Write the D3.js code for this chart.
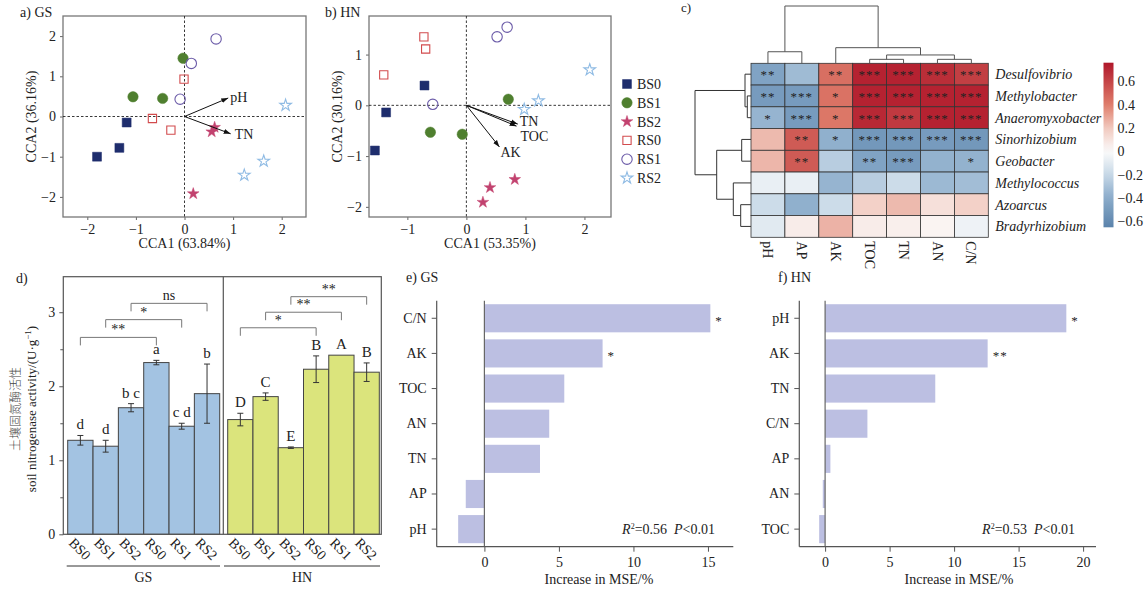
<!DOCTYPE html>
<html>
<head>
<meta charset="utf-8">
<script src="https://cdn.jsdelivr.net/npm/d3@7"></script>
<style>
  body { margin: 0; background: #fff; }
  text { font-family: "Liberation Serif", Tinos, "Times New Roman", serif; fill: #222; }
</style>
</head>
<body>
<div id="chart"></div>
<script>
// ---- data ----
const groups = ["BS0", "BS1", "BS2", "RS0", "RS1", "RS2"];
const groupColors = ["#1e2d6d", "#4f7f2f", "#c2426f", "#d24b4d", "#6b5ba8", "#8fbbe4"];

// CCA site scores: [group, CCA1, CCA2]
const gsPoints = [
  ["BS0", -1.80, -1.00], ["BS0", -1.34, -0.78], ["BS0", -1.19, -0.15],
  ["BS1", -0.03, 1.45], ["BS1", -1.06, 0.49], ["BS1", -0.45, 0.45],
  ["BS2", 0.62, -0.27], ["BS2", 0.56, -0.38], ["BS2", 0.18, -1.92],
  ["RS0", -0.01, 0.93], ["RS0", -0.66, -0.05], ["RS0", -0.28, -0.34],
  ["RS1", 0.65, 1.93], ["RS1", 0.14, 1.32], ["RS1", -0.09, 0.43],
  ["RS2", 2.08, 0.28], ["RS2", 1.63, -1.11], ["RS2", 1.23, -1.46]
];
const hnPoints = [
  ["BS0", -0.71, 0.39], ["BS0", -1.36, -0.14], ["BS0", -1.55, -0.89],
  ["BS1", 0.71, 0.12], ["BS1", -0.61, -0.53], ["BS1", -0.07, -0.57],
  ["BS2", 0.82, -1.46], ["BS2", 0.40, -1.62], ["BS2", 0.28, -1.91],
  ["RS0", -0.72, 1.35], ["RS0", -0.69, 1.11], ["RS0", -1.40, 0.60],
  ["RS1", 0.69, 1.54], ["RS1", 0.52, 1.35], ["RS1", -0.57, 0.02],
  ["RS2", 2.09, 0.70], ["RS2", 1.22, 0.09], ["RS2", 0.98, -0.08]
];
const gsArrows = [["pH", 0.90, 0.46], ["TN", 0.95, -0.43]];
const hnArrows = [["TN", 0.87, -0.37], ["TOC", 0.85, -0.41], ["AK", 0.56, -0.82]];

// heatmap (Spearman r)
const hmCols = ["pH", "AP", "AK", "TOC", "TN", "AN", "C/N"];
const hmRows = ["Desulfovibrio", "Methylobacter", "Anaeromyxobacter", "Sinorhizobium",
  "Geobacter", "Methylococcus", "Azoarcus", "Bradyrhizobium"];
const hmValues = [
  [-0.45, -0.33, 0.45, 0.72, 0.72, 0.68, 0.62],
  [-0.50, -0.50, 0.44, 0.72, 0.72, 0.72, 0.72],
  [-0.36, -0.50, 0.42, 0.70, 0.64, 0.72, 0.72],
  [0.24, 0.52, -0.38, -0.52, -0.52, -0.50, -0.52],
  [0.25, 0.52, -0.25, -0.45, -0.50, -0.37, -0.37],
  [-0.07, -0.07, -0.36, -0.25, -0.18, -0.34, -0.32],
  [-0.18, -0.38, -0.18, 0.17, 0.24, 0.11, 0.17],
  [-0.10, 0.06, 0.26, 0.06, 0.05, 0.03, -0.05]
];
const hmSig = [
  ["**", "", "**", "***", "***", "***", "***"],
  ["**", "***", "*", "***", "***", "***", "***"],
  ["*", "***", "*", "***", "***", "***", "***"],
  ["", "**", "*", "***", "***", "***", "***"],
  ["", "**", "", "**", "***", "", "*"],
  ["", "", "", "", "", "", ""],
  ["", "", "", "", "", "", ""],
  ["", "", "", "", "", "", ""]
];
// linkage rows: [child a, child b, merge height]; new clusters numbered after leaves
const colLinkage = [[3, 4, 0.38], [5, 6, 0.38], [7, 8, 0.8], [2, 9, 1.5], [0, 1, 1.11], [11, 10, 5.5]];
const rowLinkage = [[1, 2, 0.37], [0, 8, 0.6], [3, 4, 0.93], [6, 7, 1.03], [5, 11, 1.77], [10, 12, 3.43], [9, 13, 5.6]];
const cbTicks = [0.6, 0.4, 0.2, 0, -0.2, -0.4, -0.6];

// nitrogenase activity
const gsActivity = [1.27, 1.19, 1.71, 2.32, 1.46, 1.90];
const gsErr = [0.065, 0.08, 0.055, 0.03, 0.04, 0.40];
const gsLetters = ["d", "d", "b c", "a", "c d", "b"];
const hnActivity = [1.55, 1.86, 1.17, 2.23, 2.42, 2.19];
const hnErr = [0.085, 0.05, 0.01, 0.18, 0, 0.125];
const hnLetters = ["D", "C", "E", "B", "A", "B"];
const gsBrackets = [["BS0", "RS0", 2.66, "**"], ["BS1", "RS1", 2.90, "*"], ["BS2", "RS2", 3.12, "ns"]];
const hnBrackets = [["BS0", "RS0", 2.79, "*"], ["BS1", "RS1", 3.00, "**"], ["BS2", "RS2", 3.21, "**"]];

// random forest importance
const eVars = ["C/N", "AK", "TOC", "AN", "TN", "AP", "pH"];
const eMSE = [15.16, 7.93, 5.36, 4.35, 3.73, -1.25, -1.76];
const eSig = ["*", "*", "", "", "", "", ""];
const fVars = ["pH", "AK", "TN", "C/N", "AP", "AN", "TOC"];
const fMSE = [18.7, 12.6, 8.54, 3.28, 0.41, -0.18, -0.46];
const fSig = ["*", "**", "", "", "", "", ""];

// ---- drawing ----
const svg = d3.select("#chart").append("svg")
  .attr("width", 1146).attr("height", 594)
  .style("font-size", "13px");

svg.append("defs").append("marker")
  .attr("id", "arrow").attr("viewBox", "0 0 10 10")
  .attr("refX", 10).attr("refY", 5)
  .attr("markerWidth", 7).attr("markerHeight", 7)
  .attr("markerUnits", "userSpaceOnUse")
  .attr("orient", "auto")
  .append("path").attr("d", "M0,1.5L10,5L0,8.5z").attr("fill", "#111");

const color = d3.scaleOrdinal(groups, groupColors);
const symType = d3.scaleOrdinal(groups, [d3.symbolSquare, d3.symbolCircle, d3.symbolStar,
  d3.symbolSquare, d3.symbolCircle, d3.symbolStar]);
const symSize = d3.scaleOrdinal(groups, [80, 85, 42, 68, 85, 42]);
const filled = g => g.startsWith("BS");
const intFmt = d3.format("d");

function drawSymbol(sel, g) {
  sel.attr("d", d3.symbol(symType(g), symSize(g)))
    .attr("fill", filled(g) ? color(g) : "none")
    .attr("stroke", color(g))
    .attr("stroke-width", filled(g) ? 0.5 : 1.1);
}

function ccaPanel(opt) {
  const { points, arrows, xDom, yDom, left, right, top, bottom, title, xLab, yLab, labOff } = opt;
  const x = d3.scaleLinear(xDom, [left, right]);
  const y = d3.scaleLinear(yDom, [bottom, top]);
  const g = svg.append("g");

  g.append("g").attr("transform", `translate(0,${bottom})`)
    .call(d3.axisBottom(x).tickValues(d3.range(Math.ceil(xDom[0]), Math.floor(xDom[1]) + 1))
      .tickFormat(intFmt).tickSize(3).tickPadding(4));
  g.append("g").attr("transform", `translate(${left},0)`)
    .call(d3.axisLeft(y).tickValues(d3.range(Math.ceil(yDom[0]), Math.floor(yDom[1]) + 1))
      .tickFormat(intFmt).tickSize(3).tickPadding(4));
  g.selectAll(".domain").remove();
  g.selectAll(".tick line").attr("stroke", "#666");
  g.selectAll(".tick text").attr("fill", "#222").style("font-size", "14px");

  g.append("rect").attr("x", left).attr("y", top)
    .attr("width", right - left).attr("height", bottom - top)
    .attr("fill", "none").attr("stroke", "#777").attr("stroke-width", 1.3);

  g.append("line").attr("x1", x(0)).attr("x2", x(0)).attr("y1", top).attr("y2", bottom)
    .attr("stroke", "#222").attr("stroke-dasharray", "2.5,2").attr("stroke-width", 0.9);
  g.append("line").attr("x1", left).attr("x2", right).attr("y1", y(0)).attr("y2", y(0))
    .attr("stroke", "#222").attr("stroke-dasharray", "2.5,2").attr("stroke-width", 0.9);

  g.selectAll(".pt").data(points).join("path")
    .attr("transform", d => `translate(${x(d[1])},${y(d[2])})`)
    .each(function (d) { drawSymbol(d3.select(this), d[0]); });

  g.selectAll(".arr").data(arrows).join("line")
    .attr("x1", x(0)).attr("y1", y(0))
    .attr("x2", d => x(d[1])).attr("y2", d => y(d[2]))
    .attr("stroke", "#111").attr("stroke-width", 1)
    .attr("marker-end", "url(#arrow)");
  g.selectAll(".arrlab").data(arrows).join("text")
    .attr("x", d => x(d[1]) + labOff[d[0]][0])
    .attr("y", d => y(d[2]) + labOff[d[0]][1])
    .attr("dy", "0.35em")
    .style("font-size", "14px")
    .text(d => d[0]);

  g.append("text").attr("x", (left + right) / 2).attr("y", bottom + 31)
    .attr("text-anchor", "middle").style("font-size", "14px").text(xLab);
  g.append("text").attr("transform", `translate(${left - 27},${(top + bottom) / 2}) rotate(-90)`)
    .attr("text-anchor", "middle").style("font-size", "14px").text(yLab);
  g.append("text").attr("x", title[1]).attr("y", 17).style("font-size", "14px").text(title[0]);
}

ccaPanel({
  points: gsPoints, arrows: gsArrows, xDom: [-2.5, 2.5], yDom: [-2.5, 2.5],
  left: 63, right: 306, top: 16, bottom: 217,
  title: ["a) GS", 20], xLab: "CCA1 (63.84%)", yLab: "CCA2 (36.16%)",
  labOff: { pH: [2, -1], TN: [4, 0] }
});
ccaPanel({
  points: hnPoints, arrows: hnArrows, xDom: [-1.65, 2.45], yDom: [-2.2, 1.76],
  left: 369, right: 611, top: 16, bottom: 217,
  title: ["b) HN", 325], xLab: "CCA1 (53.35%)", yLab: "CCA2 (30.16%)",
  labOff: { TN: [2, -3], TOC: [4, 10], AK: [1, 5] }
});

// legend
const leg = svg.append("g").selectAll("g").data(groups).join("g")
  .attr("transform", (d, i) => `translate(627,${84 + i * 18.8})`);
leg.append("path").each(function (d) { drawSymbol(d3.select(this), d); });
leg.append("text").attr("x", 10).attr("dy", "0.35em").style("font-size", "14px").text(d => d);

// ---- heatmap ----
(function () {
  const left = 751, right = 988.3, top = 63.3, bottom = 237.3;
  const x = d3.scaleBand(hmCols, [left, right]);
  const y = d3.scaleBand(hmRows, [top, bottom]);
  const col = d3.scaleLinear([-0.65, -0.4, -0.2, 0, 0.2, 0.4, 0.76],
    ["#5a83ab", "#8aabca", "#c7d8e7", "#fbfbfb", "#f1c9bf", "#df7d6b", "#b0172a"]);
  const g = svg.append("g");
  g.append("text").attr("x", 681).attr("y", 12).style("font-size", "13px").text("c)");

  const cells = [];
  hmValues.forEach((r, i) => r.forEach((v, j) => cells.push({ r: hmRows[i], c: hmCols[j], v, s: hmSig[i][j] })));
  g.selectAll("rect").data(cells).join("rect")
    .attr("x", d => x(d.c)).attr("y", d => y(d.r))
    .attr("width", x.bandwidth()).attr("height", y.bandwidth())
    .attr("fill", d => col(d.v)).attr("stroke", "#333").attr("stroke-width", 0.8);
  g.selectAll(".sig").data(cells.filter(d => d.s)).join("text")
    .attr("x", d => x(d.c) + x.bandwidth() / 2).attr("y", d => y(d.r) + y.bandwidth() / 2 + 5)
    .attr("text-anchor", "middle").style("font-size", "13px").style("letter-spacing", "1px")
    .attr("fill", "#333").text(d => d.s);

  g.selectAll(".rl").data(hmRows).join("text")
    .attr("x", right + 7).attr("y", d => y(d) + y.bandwidth() / 2).attr("dy", "0.35em")
    .style("font-size", "14px").style("font-style", "italic").text(d => d);
  g.selectAll(".cl").data(hmCols).join("text")
    .attr("transform", d => `translate(${x(d) + x.bandwidth() / 2},${bottom + 4}) rotate(90)`)
    .attr("dy", "0.35em").style("font-size", "14px").text(d => d);

  // dendrograms
  function dendro(linkage, leaves, pos) {
    const nodes = leaves.map(l => ({ p: pos(l), h: 0 }));
    const segs = [];
    linkage.forEach(([a, b, h]) => {
      const A = nodes[a], B = nodes[b];
      segs.push({ A, B, h });
      nodes.push({ p: (A.p + B.p) / 2, h });
    });
    return segs;
  }
  const hTop = d3.scaleLinear([0, 5.5], [top, 6]);
  const colSegs = dendro(colLinkage, hmCols, c => x(c) + x.bandwidth() / 2);
  g.selectAll(".cd").data(colSegs).join("path")
    .attr("d", s => `M${s.A.p},${hTop(s.A.h)}V${hTop(s.h)}H${s.B.p}V${hTop(s.B.h)}`)
    .attr("fill", "none").attr("stroke", "#555").attr("stroke-width", 1);
  const hLeft = d3.scaleLinear([0, 5.6], [left, 695]);
  const rowSegs = dendro(rowLinkage, hmRows, r => y(r) + y.bandwidth() / 2);
  g.selectAll(".rd").data(rowSegs).join("path")
    .attr("d", s => `M${hLeft(s.A.h)},${s.A.p}H${hLeft(s.h)}V${s.B.p}H${hLeft(s.B.h)}`)
    .attr("fill", "none").attr("stroke", "#333").attr("stroke-width", 1);

  // colour bar
  const cb = d3.scaleLinear([-0.65, 0.76], [227.3, 62.7]);
  const grad = svg.select("defs").append("linearGradient").attr("id", "cbg")
    .attr("x1", 0).attr("x2", 0).attr("y1", 1).attr("y2", 0);
  d3.range(0, 1.0001, 0.05).forEach(t => {
    grad.append("stop").attr("offset", t).attr("stop-color", col(-0.65 + t * 1.41));
  });
  g.append("rect").attr("x", 1103.5).attr("y", 62.7).attr("width", 10).attr("height", 227.3 - 62.7)
    .attr("fill", "url(#cbg)");
  g.selectAll(".cbt").data(cbTicks).join("text")
    .attr("x", 1117.5).attr("y", d => cb(d)).attr("dy", "0.35em")
    .style("font-size", "14px").text(d => d3.format("")(d).replace("-", "\u2212"));
})();

// ---- panel d: nitrogenase activity ----
(function () {
  const left = 63.3, right = 381.3, top = 276.7, bottom = 534.3, mid = 223.3;
  const y = d3.scaleLinear([0, 3.48], [bottom, top]);
  const xg = d3.scaleBand(groups, [67.7, 219.7]);
  const xh = d3.scaleBand(groups, [227.7, 379.3]);
  const g = svg.append("g");
  g.append("text").attr("x", 16).attr("y", 283).style("font-size", "14px").text("d)");

  function site(xs, vals, errs, letters, brackets, fill) {
    const data = groups.map((k, i) => ({ k, v: vals[i], e: errs[i], l: letters[i] }));
    g.append("g").selectAll("rect").data(data).join("rect")
      .attr("x", d => xs(d.k)).attr("y", d => y(d.v))
      .attr("width", xs.bandwidth()).attr("height", d => y(0) - y(d.v))
      .attr("fill", fill).attr("stroke", "#444").attr("stroke-width", 1);
    const eb = g.append("g").attr("stroke", "#333").attr("stroke-width", 1)
      .selectAll("g").data(data.filter(d => d.e > 0)).join("g");
    const cx = d => xs(d.k) + xs.bandwidth() / 2;
    eb.append("line").attr("x1", cx).attr("x2", cx).attr("y1", d => y(d.v - d.e)).attr("y2", d => y(d.v + d.e));
    eb.append("line").attr("x1", d => cx(d) - 3).attr("x2", d => cx(d) + 3).attr("y1", d => y(d.v - d.e)).attr("y2", d => y(d.v - d.e));
    eb.append("line").attr("x1", d => cx(d) - 3).attr("x2", d => cx(d) + 3).attr("y1", d => y(d.v + d.e)).attr("y2", d => y(d.v + d.e));
    g.append("g").selectAll("text").data(data).join("text")
      .attr("x", cx).attr("y", d => y(d.v + d.e) - 6)
      .attr("text-anchor", "middle").style("font-size", "15px").text(d => d.l);
    const br = g.append("g").selectAll("g").data(brackets).join("g");
    br.append("path")
      .attr("d", b => `M${xs(b[0]) + xs.bandwidth() / 2},${y(b[2]) + 8}V${y(b[2])}H${xs(b[1]) + xs.bandwidth() / 2}V${y(b[2]) + 8}`)
      .attr("fill", "none").attr("stroke", "#777").attr("stroke-width", 1);
    br.append("text")
      .attr("x", b => (xs(b[0]) + xs(b[1]) + xs.bandwidth()) / 2).attr("y", b => y(b[2]) - 3)
      .attr("text-anchor", "middle").style("font-size", "14px")
      .text(b => b[3]);
    g.append("g").selectAll("text").data(groups).join("text")
      .attr("transform", d => `translate(${xs(d) + xs.bandwidth() / 2 - 9},${bottom + 6}) rotate(45)`)
      .attr("dy", "0.35em").style("font-size", "14px").text(d => d);
  }
  site(xg, gsActivity, gsErr, gsLetters, gsBrackets, "#a3c3e2");
  site(xh, hnActivity, hnErr, hnLetters, hnBrackets, "#dbe47c");

  g.append("rect").attr("x", left).attr("y", top).attr("width", right - left).attr("height", bottom - top)
    .attr("fill", "none").attr("stroke", "#555").attr("stroke-width", 1.2);
  g.append("line").attr("x1", mid).attr("x2", mid).attr("y1", top).attr("y2", bottom)
    .attr("stroke", "#555").attr("stroke-width", 1.2);

  const ya = g.append("g").attr("transform", `translate(${left},0)`)
    .call(d3.axisLeft(y).tickValues([0, 1, 2, 3]).tickFormat(intFmt).tickSize(4).tickPadding(4));
  g.append("g").attr("transform", `translate(${left},0)`)
    .call(d3.axisLeft(y).tickValues([0.5, 1.5, 2.5]).tickSize(3).tickFormat(""))
    .call(a => a.select(".domain").remove());
  g.selectAll(".domain").remove();
  g.selectAll(".tick line").attr("stroke", "#555");
  ya.selectAll("text").style("font-size", "14px").attr("fill", "#222");

  // site labels
  [["GS", 66.7, 220], ["HN", 224, 380]].forEach(([s, a, b]) => {
    g.append("line").attr("x1", a).attr("x2", b).attr("y1", 566).attr("y2", 566)
      .attr("stroke", "#333").attr("stroke-width", 1);
    g.append("text").attr("x", (a + b) / 2).attr("y", 582).attr("text-anchor", "middle")
      .style("font-size", "14px").text(s);
  });

  const yl = g.append("g").attr("transform", `translate(20,409) rotate(-90)`);
  yl.append("text").attr("text-anchor", "middle").attr("y", 0)
    .style("font-family", "'Noto Sans CJK SC', sans-serif").style("font-size", "12px")
    .style("font-weight", 300).style("fill", "#444")
    .text("土壤固氮酶活性");
  const t2 = yl.append("text").attr("text-anchor", "middle").attr("y", 16).style("font-size", "13px");
  t2.append("tspan").text("soil nitrogenase activity/(U·g");
  t2.append("tspan").attr("dy", -5).style("font-size", "9px").text("\u22121");
  t2.append("tspan").attr("dy", 5).text(")");
})();

// ---- panels e / f: importance ----
function rfPanel(opt) {
  const { vars, vals, sig, xDom, ticks, left, right, title, r2 } = opt;
  const top = 300.7, bottom = 546.7;
  const x = d3.scaleLinear(xDom, [left, right]);
  const y = d3.scaleBand(vars, [top, bottom]).paddingInner(0.2).paddingOuter(0.1);
  const g = svg.append("g");
  g.append("text").attr("x", title[1]).attr("y", 282).style("font-size", "14px").text(title[0]);

  g.selectAll("rect").data(vars).join("rect")
    .attr("x", (d, i) => x(Math.min(0, vals[i])))
    .attr("width", (d, i) => Math.abs(x(vals[i]) - x(0)))
    .attr("y", d => y(d)).attr("height", y.bandwidth())
    .attr("fill", "#bcbfe2");
  g.selectAll(".sg").data(vars).join("text")
    .attr("x", (d, i) => x(vals[i]) + 5).attr("y", d => y(d) + y.bandwidth() / 2 + 7)
    .style("font-size", "13px").style("letter-spacing", "1px").text((d, i) => sig[i]);

  g.append("line").attr("x1", x(0)).attr("x2", x(0)).attr("y1", top).attr("y2", bottom)
    .attr("stroke", "#666").attr("stroke-width", 1.2);

  const ax = g.append("g").attr("transform", `translate(0,${bottom})`)
    .call(d3.axisBottom(x).tickValues(ticks).tickSize(5).tickPadding(5));
  const ay = g.append("g").attr("transform", `translate(${left},0)`)
    .call(d3.axisLeft(y).tickSize(5).tickPadding(5));
  [ax, ay].forEach(a => {
    a.selectAll(".domain").attr("stroke", "#555").attr("stroke-width", 1.2);
    a.selectAll(".tick line").attr("stroke", "#555");
    a.selectAll("text").style("font-size", "14px").attr("fill", "#222");
  });
  ay.select(".domain").attr("d", `M0,${top}V${bottom}`);
  ax.select(".domain").attr("d", `M${left},0H${right}`);

  g.append("text").attr("x", opt.labX).attr("y", 584)
    .attr("text-anchor", "middle").style("font-size", "14px").text("Increase in MSE/%");

  const t = g.append("text").attr("x", r2[1]).attr("y", 534).attr("text-anchor", "end").style("font-size", "14px");
  t.append("tspan").style("font-style", "italic").text("R");
  t.append("tspan").attr("dy", -5).style("font-size", "8px").text("2");
  t.append("tspan").attr("dy", 5).text("=" + r2[0]);
  t.append("tspan").attr("dx", 7).style("font-style", "italic").text("P");
  t.append("tspan").text("<0.01");
}
rfPanel({
  vars: eVars, vals: eMSE, sig: eSig, xDom: [-3.2, 16.7], ticks: [0, 5, 10, 15],
  left: 436.7, right: 733.3, title: ["e) GS", 406], r2: ["0.56", 715], labX: 599
});
rfPanel({
  vars: fVars, vals: fMSE, sig: fSig, xDom: [-2, 21], ticks: [0, 5, 10, 15, 20],
  left: 799.3, right: 1096, title: ["f) HN", 778], r2: ["0.53", 1075], labX: 959
});
</script>
</body>
</html>
